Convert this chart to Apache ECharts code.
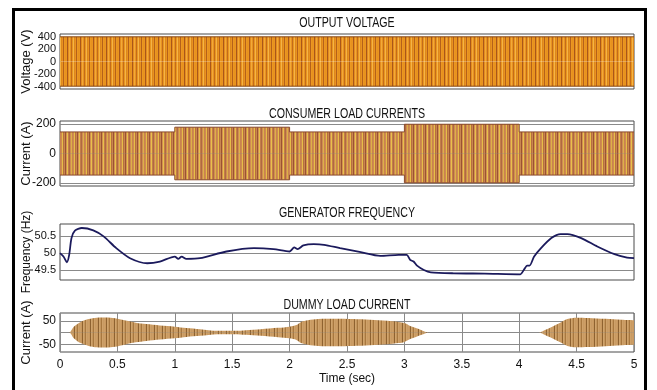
<!DOCTYPE html>
<html>
<head>
<meta charset="utf-8">
<script src="https://cdn.jsdelivr.net/npm/echarts@6/dist/echarts.min.js"></script>
<style>
html,body{margin:0;padding:0;background:#fff;}
#c{width:657px;height:390px;}
</style>
</head>
<body>
<div id="c"></div>
<script>
// ---- data ----
const panelTitles = ['OUTPUT VOLTAGE', 'CONSUMER LOAD CURRENTS', 'GENERATOR FREQUENCY', 'DUMMY LOAD CURRENT'];
const axisNames = ['Voltage (V)', 'Current (A)', 'Frequency (Hz)', 'Current (A)'];
const xAxisName = 'Time (sec)';

// Output voltage envelope (peak, V)
const voltT   = [0, 5];
const voltEnv = [395, 395];
const voltTicks = [-400, -200, 0, 200, 400];

// Consumer load current envelope (peak, A) – stepwise load changes
const loadT   = [0, 1, 1, 2, 2, 3, 3, 4, 4, 5];
const loadEnv = [146, 146, 178, 178, 146, 146, 198, 198, 146, 146];
const loadTicks = [-200, 0, 200];

// Generator frequency (Hz)
const freqT = [0, 0.03, 0.06, 0.08, 0.10, 0.13, 0.19, 0.29, 0.38, 0.49, 0.61, 0.76, 0.87, 1.0, 1.03, 1.06, 1.1, 1.22, 1.45, 1.69, 1.86, 2.0, 2.04, 2.07, 2.12, 2.21, 2.3, 2.44, 2.62, 2.79, 2.95, 3.02, 3.05, 3.08, 3.11, 3.17, 3.23, 3.43, 3.7, 4.01, 4.04, 4.07, 4.09, 4.13, 4.19, 4.28, 4.36, 4.42, 4.54, 4.68, 4.83, 4.94, 5.0];
const freqV = [50.0, 49.9, 49.73, 49.95, 50.45, 50.67, 50.75, 50.68, 50.5, 50.15, 49.85, 49.7, 49.75, 49.9, 49.83, 49.9, 49.83, 49.85, 50.05, 50.15, 50.12, 50.05, 50.17, 50.12, 50.23, 50.27, 50.25, 50.15, 50.03, 49.92, 49.95, 49.95, 49.8, 49.75, 49.63, 49.5, 49.43, 49.4, 49.39, 49.37, 49.5, 49.63, 49.63, 49.9, 50.15, 50.45, 50.57, 50.57, 50.45, 50.2, 49.97, 49.87, 49.85];
const freqTicks = [49.5, 50, 50.5];

// Dummy load current envelope (peak, A)
const dumT   = [0, 0.08, 0.12, 0.18, 0.25, 0.32, 0.4, 0.48, 0.56, 0.66, 0.75, 0.87, 1.0, 1.1, 1.22, 1.37, 1.52, 1.62, 1.75, 1.9, 2.0, 2.06, 2.1, 2.16, 2.25, 2.4, 2.55, 2.7, 2.85, 2.95, 3.0, 3.05, 3.1, 3.15, 3.21, 4.17, 4.23, 4.3, 4.37, 4.42, 4.5, 4.6, 4.75, 4.89, 5.0];
const dumEnv = [0, 0, 24, 45, 57, 63, 64, 61, 52, 42, 36, 30, 25, 19, 14, 7, 7, 10, 14, 20, 25, 32, 45, 52, 57, 58, 57, 54, 50, 45, 40, 28, 19, 10, 0, 0, 12, 28, 45, 57, 63, 62, 58, 54, 52];
const dumTicks = [-50, 0, 50];

const timeTicks = [0, 0.5, 1, 1.5, 2, 2.5, 3, 3.5, 4, 4.5, 5];

// ---- styles ----
function stripePattern(cols) {
  const cv = document.createElement('canvas');
  cv.width = cols.length; cv.height = 4;
  const ctx = cv.getContext('2d');
  cols.forEach((c, i) => { ctx.fillStyle = c; ctx.fillRect(i, 0, 1, 4); });
  return { image: cv, repeat: 'repeat' };
}
const voltFill = stripePattern(['#E8911E','#E99520','#A9561A','#E38C1E','#F2A93A','#E8931F','#C26B1B','#E9951F','#F4B447','#DE871C','#E8931F','#B5601A','#EA9822']);
const loadFill = stripePattern(['#C9824E','#CF8A50','#E6BE48','#B8703E','#C98450','#9A5430','#D39052','#E8C24A','#C47C4A','#B06A40','#D08C54','#DDB048']);
const dumFill  = stripePattern(['#CC9E66','#C8985F','#8E6230','#D0A46C','#C4965E','#A8783F','#CFA26A','#C99A62']);

const font = "'Liberation Sans', Arial, sans-serif";

const L = 60, W = 574;
const grids = [
  { left: L, top: 34, width: W, height: 55 },
  { left: L, top: 121, width: W, height: 65 },
  { left: L, top: 224, width: W, height: 56 },
  { left: L, top: 313, width: W, height: 39 }
].map(g => Object.assign(g, { show: true, borderColor: '#4a4a4a', borderWidth: 1, backgroundColor: '#fff' }));

const yRanges = [[-440, 440], [-220, 220], [49.2, 50.87], [-83, 83]];
const yTicks = [voltTicks, loadTicks, freqTicks, dumTicks];
const yNameSize = [13, 13, 12, 13];
const yLabelSize = [11, 12, 11, 12];

const xAxes = [0, 1, 2, 3].map(i => ({
  type: 'value', gridIndex: i, min: 0, max: 5, interval: 0.5,
  axisLine: { show: false }, axisTick: { show: false },
  axisLabel: { show: i === 3, color: '#111', fontFamily: font, fontSize: 12, margin: 7 },
  splitLine: { show: i === 3, lineStyle: { color: '#8a8a8a', width: 1 } },
  name: i === 3 ? xAxisName : '', nameLocation: 'middle', nameGap: 21, nameMoveOverlap: false,
  nameTextStyle: { color: '#111', fontFamily: font, fontSize: 12 }
}));

const yAxes = [0, 1, 2, 3].map(i => ({
  type: 'value', gridIndex: i, min: yRanges[i][0], max: yRanges[i][1],
  axisLine: { show: false },
  axisTick: { show: false, customValues: yTicks[i] },
  axisLabel: { customValues: yTicks[i], color: '#111', fontFamily: font, fontSize: yLabelSize[i], margin: 4,
               showMinLabel: true, showMaxLabel: true, hideOverlap: false },
  splitLine: { show: i !== 0, lineStyle: { color: '#8a8a8a', width: 1 } },
  name: axisNames[i], nameLocation: 'middle', nameRotate: 90, nameGap: 27, nameMoveOverlap: false,
  nameTextStyle: { color: '#111', fontFamily: font, fontSize: yNameSize[i] }
}));

function band(idx, T, E, fill, edge, smooth) {
  const up = T.map((t, k) => [t, E[k]]);
  const dn = T.map((t, k) => [t, -E[k]]);
  return [up, dn].map(d => ({
    type: 'line', xAxisIndex: idx, yAxisIndex: idx, data: d,
    showSymbol: false, symbol: 'none', smooth: smooth, silent: true,
    lineStyle: edge ? { color: edge, width: 1 } : { width: 0 },
    areaStyle: { color: fill, opacity: 1, origin: 'auto' },
    z: 3
  }));
}

const series = [].concat(
  band(0, voltT, voltEnv, voltFill, '#8A4A16', false),
  band(1, loadT, loadEnv, loadFill, '#8A4A2A', false),
  [{
    type: 'line', xAxisIndex: 2, yAxisIndex: 2,
    data: freqT.map((t, k) => [t, freqV[k]]),
    showSymbol: false, symbol: 'none', smooth: 0.25, silent: true,
    lineStyle: { color: '#1B1A5C', width: 1.8 }, z: 4
  }],
  band(3, dumT, dumEnv, dumFill, null, 0.3)
);

const titleY = [23, 114, 213, 305];
const graphic = [
  { type: 'rect', shape: { x: 13.5, y: 9.5, width: 632, height: 400 }, style: { fill: 'none', stroke: '#000', lineWidth: 3 }, z: 100, silent: true }
].concat(panelTitles.map((t, i) => ({
  type: 'text', x: L + W / 2, y: titleY[i], scaleX: 0.76, silent: true,
  style: { text: t, font: '14px ' + font, fill: '#111', textAlign: 'center', textVerticalAlign: 'middle' }
})));

const chart = echarts.init(document.getElementById('c'), null, { renderer: 'canvas' });
chart.setOption({
  animation: false,
  backgroundColor: '#fff',
  grid: grids,
  xAxis: xAxes,
  yAxis: yAxes,
  series: series,
  graphic: graphic
});
</script>
</body>
</html>
